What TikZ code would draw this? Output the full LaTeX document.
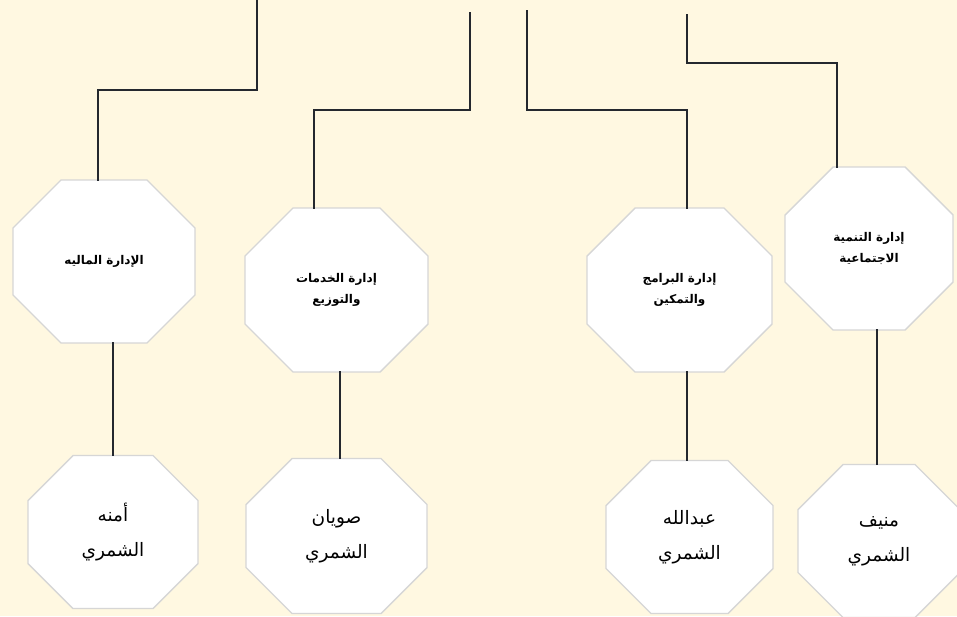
\documentclass[tikz,border=0pt]{standalone}
\usepackage{fontspec}
\newfontfamily\arabicfont[Script=Arabic]{DejaVu Sans}
\TeXXeTstate=1
\definecolor{bgc}{RGB}{255,248,225}
\definecolor{octline}{RGB}{214,214,214}
\definecolor{conn}{RGB}{36,40,46}
\pgfdeclarelayer{bg}
\pgfsetlayers{bg,main}
\tikzset{
  octbox/.style={draw=none, inner sep=0pt, outer sep=0pt, align=center, text=black},
  dept/.style={octbox, font=\arabicfont\bfseries\fontsize{12}{21}\selectfont},
  person/.style={octbox, font=\arabicfont\fontsize{18.5}{35}\selectfont},
  octshape/.style={fill=white, draw=octline, line width=1.4pt, line join=miter},
  link/.style={draw=conn, line width=1.4pt, line cap=rect}
}
\newcommand\octdraw[2]{%
  \filldraw[octshape] ([xshift=#2pt]#1.north west) -- ([xshift=-#2pt]#1.north east)
    -- ([yshift=-#2pt]#1.north east) -- ([yshift=#2pt]#1.south east)
    -- ([xshift=-#2pt]#1.south east) -- ([xshift=#2pt]#1.south west)
    -- ([yshift=#2pt]#1.south west) -- ([yshift=-#2pt]#1.north west) -- cycle;}
\begin{document}
\begin{tikzpicture}[x=1pt,y=-1pt]
\useasboundingbox (0,0) rectangle (957,616);
\begin{pgfonlayer}{bg}
\fill[bgc] (0,0) rectangle (957,616);
\end{pgfonlayer}
% department nodes
\node[dept, minimum width=182pt, minimum height=163pt] (o1) at (104,261.5) {\beginR الإدارة الماليه\endR};
\node[dept, minimum width=183pt, minimum height=164pt] (o2) at (336.5,290) {\beginR إدارة الخدمات\endR\\\beginR والتوزيع\endR};
\node[dept, minimum width=185pt, minimum height=164pt] (o3) at (679.5,290) {\beginR إدارة البرامج\endR\\\beginR والتمكين\endR};
\node[dept, minimum width=168pt, minimum height=163pt] (o4) at (869,248.5) {\beginR إدارة التنمية\endR\\\beginR الاجتماعية\endR};
% person nodes
\node[person, minimum width=170pt, minimum height=153pt] (o5) at (113,532) {\beginR أمنه\endR\\\beginR الشمري\endR};
\node[person, minimum width=181pt, minimum height=155pt] (o6) at (336.5,536) {\beginR صويان\endR\\\beginR الشمري\endR};
\node[person, minimum width=167pt, minimum height=153pt] (o7) at (689.5,537) {\beginR عبدالله\endR\\\beginR الشمري\endR};
\node[person, minimum width=162pt, minimum height=153pt] (o8) at (879,541) {\beginR منيف\endR\\\beginR الشمري\endR};
\begin{pgfonlayer}{bg}
\octdraw{o1}{48}
\octdraw{o2}{48}
\octdraw{o3}{48}
\octdraw{o4}{48}
\octdraw{o5}{45}
\octdraw{o6}{46}
\octdraw{o7}{45}
\octdraw{o8}{45}
\end{pgfonlayer}
% free ends of incoming connectors
\coordinate (t1) at (257,0);
\coordinate (j1) at (98,90);
\coordinate (t2) at (470,13);
\coordinate (j2) at (314,110);
\coordinate (t3) at (527,11);
\coordinate (j3) at (687,110);
\coordinate (t4) at (687,15);
\coordinate (j4) at (837,63);
\draw[link] (t1) |- (j1) -- (j1 |- o1.north);
\draw[link] (t2) |- (j2) -- (j2 |- o2.north);
\draw[link] (t3) |- (j3) -- (j3 |- o3.north);
\draw[link] (t4) |- (j4) -- (j4 |- o4.north);
% department to person
\coordinate (v1) at (113,0);
\coordinate (v2) at (340,0);
\coordinate (v3) at (687,0);
\coordinate (v4) at (877,0);
\draw[link] (v1 |- o1.south) -- (v1 |- o5.north);
\draw[link] (v2 |- o2.south) -- (v2 |- o6.north);
\draw[link] (v3 |- o3.south) -- (v3 |- o7.north);
\draw[link] (v4 |- o4.south) -- (v4 |- o8.north);
\end{tikzpicture}
\end{document}
